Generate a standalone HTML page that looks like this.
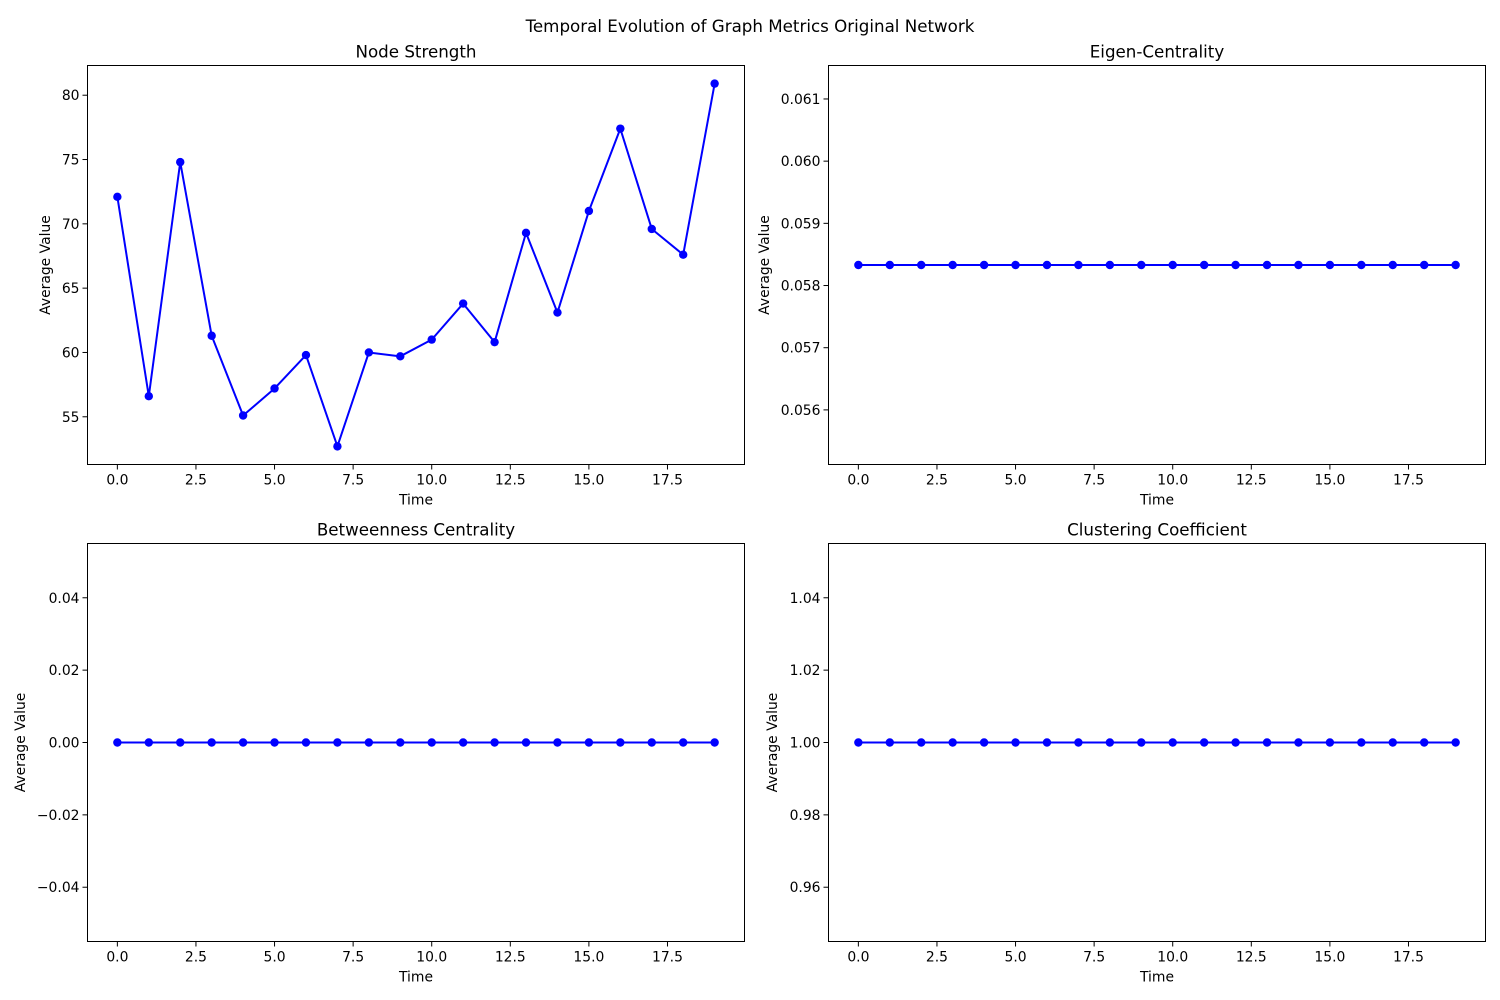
<!DOCTYPE html>
<html><head><meta charset="utf-8">
<style>
html,body{margin:0;padding:0;background:#fff;}
svg{display:block;font-family:"DejaVu Sans","Liberation Sans",sans-serif;}
</style></head>
<body>
<svg id="fig" width="1500" height="1000" xmlns="http://www.w3.org/2000/svg">
<rect width="1500" height="1000" fill="#fff"/>
<text x="750" y="32" text-anchor="middle" font-size="16.7">Temporal Evolution of Graph Metrics Original Network</text>
</svg>
<script>
const times = [0,1,2,3,4,5,6,7,8,9,10,11,12,13,14,15,16,17,18,19];
const nodeStrength = [72.1,56.6,74.8,61.3,55.1,57.2,59.8,52.7,60.0,59.7,61.0,63.8,60.8,69.3,63.1,71.0,77.4,69.6,67.6,80.9];
const eigenCentrality = [0.05833,0.05833,0.05833,0.05833,0.05833,0.05833,0.05833,0.05833,0.05833,0.05833,0.05833,0.05833,0.05833,0.05833,0.05833,0.05833,0.05833,0.05833,0.05833,0.05833];
const betweenness = [0,0,0,0,0,0,0,0,0,0,0,0,0,0,0,0,0,0,0,0];
const clustering = [1,1,1,1,1,1,1,1,1,1,1,1,1,1,1,1,1,1,1,1];
const xTicks = [0,2.5,5,7.5,10,12.5,15,17.5];
const xTickLabels = ["0.0","2.5","5.0","7.5","10.0","12.5","15.0","17.5"];
const yTicksNS = [55,60,65,70,75,80];
const yTickLabelsNS = ["55","60","65","70","75","80"];
const yTicksEC = [0.056,0.057,0.058,0.059,0.060,0.061];
const yTickLabelsEC = ["0.056","0.057","0.058","0.059","0.060","0.061"];
const yTicksBC = [-0.04,-0.02,0,0.02,0.04];
const yTickLabelsBC = ["\u22120.04","\u22120.02","0.00","0.02","0.04"];
const yTicksCC = [0.96,0.98,1.00,1.02,1.04];
const yTickLabelsCC = ["0.96","0.98","1.00","1.02","1.04"];

const NS="http://www.w3.org/2000/svg";
const fig=document.getElementById('fig');
function mk(tag,attrs,parent){const e=document.createElementNS(NS,tag);for(const k in attrs)e.setAttribute(k,attrs[k]);(parent||fig).appendChild(e);return e;}

function panel(name,title,L,T,R,B,ys,yt,ytl,ylabX){
  const g=mk('g',{});
  
  
  let mn=Math.min(...ys),mx=Math.max(...ys);
  if(mx-mn<1e-12){const d=Math.abs(mn)>0?0.05*Math.abs(mn):0.05;mn-=d;mx+=d;}
  const pad=(mx-mn)*0.05;mn-=pad;mx+=pad;
  const xmin=-0.95,xmax=19.95;
  const X=v=>L+(v-xmin)/(xmax-xmin)*(R-L);
  const Y=v=>B-(v-mn)/(mx-mn)*(B-T);
  const t=mk('text',{x:(L+R)/2,y:T-8,'text-anchor':'middle','font-size':16.7},g);t.textContent=title;
  
  
  xTicks.forEach((v,i)=>{const x=X(v);mk('line',{x1:x,x2:x,y1:B,y2:B+5,stroke:'#000','stroke-width':1},g);
    const tx=mk('text',{x:x,y:B+20,'text-anchor':'middle','font-size':13.9},g);tx.textContent=xTickLabels[i];
    
    });
  yt.forEach((v,i)=>{const y=Y(v);mk('line',{x1:L-5,x2:L,y1:y,y2:y,stroke:'#000','stroke-width':1},g);
    const ty=mk('text',{x:L-8,y:y+5,'text-anchor':'end','font-size':13.9},g);ty.textContent=ytl[i];
    
    });
  const xl=mk('text',{x:(L+R)/2,y:B+40,'text-anchor':'middle','font-size':13.9},g);xl.textContent='Time';
  
  
  const yl=mk('text',{x:ylabX,y:(T+B)/2,'text-anchor':'middle','font-size':13.9,transform:`rotate(-90 ${ylabX} ${(T+B)/2})`},g);yl.textContent='Average Value';
  
  
  const pts=times.map((tv,i)=>X(tv).toFixed(2)+','+Y(ys[i]).toFixed(2)).join(' ');
  const pl=mk('polyline',{points:pts,fill:'none',stroke:'#0000ff','stroke-width':2,'stroke-linejoin':'round'},g);
  
  
  times.forEach((tv,i)=>{const c=mk('circle',{cx:X(tv),cy:Y(ys[i]),r:4.2,fill:'#0000ff'},g);
    
    });
  const fr=mk('rect',{x:L,y:T,width:R-L,height:B-T,fill:'none',stroke:'#000','stroke-width':1},g);
  
  
}
panel('node-strength','Node Strength',87.5,65.5,744.5,464.5,nodeStrength,yTicksNS,yTickLabelsNS,50);
panel('eigen-centrality','Eigen-Centrality',828.5,65.5,1485.5,464.5,eigenCentrality,yTicksEC,yTickLabelsEC,769);
panel('betweenness-centrality','Betweenness Centrality',87.5,543.5,744.5,941.5,betweenness,yTicksBC,yTickLabelsBC,25);
panel('clustering-coefficient','Clustering Coefficient',828.5,543.5,1485.5,941.5,clustering,yTicksCC,yTickLabelsCC,777);
</script>
</body></html>
